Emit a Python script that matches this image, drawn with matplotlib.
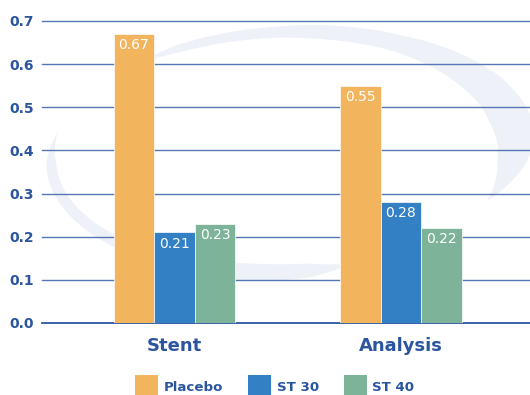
import numpy as np
import matplotlib
matplotlib.use("Agg")
import matplotlib.pyplot as plt
from matplotlib.patches import Polygon, Patch

# ---- data ----
groups = ["Stent", "Analysis"]
series = ["Placebo", "ST 30", "ST 40"]
placebo = [0.67, 0.55]
st30 = [0.21, 0.28]
st40 = [0.23, 0.22]
yticks = [0.0, 0.1, 0.2, 0.3, 0.4, 0.5, 0.6, 0.7]

colors = ["#F2B55E", "#3381C4", "#7DB398"]
text_blue = "#2C55A0"
grid_blue = "#5577B5"

W, H = 530, 395
fig = plt.figure(figsize=(W / 100, H / 100), dpi=100)
fig.patch.set_facecolor("white")

# faint swoosh logo in the background, built in pixel space
CX, CY, A, B, PHI = 283.0, 152.0, 232.0, 120.0, np.deg2rad(3)


def swoosh_arc(th_deg, w_knots_th, w_knots_w):
    th = np.deg2rad(th_deg)
    X = CX + A * np.cos(th) * np.cos(PHI) - B * np.sin(th) * np.sin(PHI)
    Y = CY - (A * np.cos(th) * np.sin(PHI) + B * np.sin(th) * np.cos(PHI))
    w = np.interp(th_deg, w_knots_th, w_knots_w)
    dx, dy = X - CX, Y - CY
    r = np.hypot(dx, dy)
    nx, ny = dx / r, dy / r
    ox, oy = X + nx * w / 2, Y + ny * w / 2
    ix, iy = X - nx * w / 2, Y - ny * w / 2
    px = np.concatenate([ox, ix[::-1]]) / W
    py = 1 - np.concatenate([oy, iy[::-1]]) / H
    return Polygon(np.column_stack([px, py]), closed=True, transform=fig.transFigure,
                   facecolor="#EFF1F8", edgecolor="none", zorder=-1)


fig.patches.append(swoosh_arc(np.linspace(-30, 128, 300),
                              [-30, -10, 10, 30, 60, 90, 115, 128],
                              [0, 30, 42, 38, 20, 11, 9, 0]))
fig.patches.append(swoosh_arc(np.linspace(165, 286, 250),
                              [165, 180, 220, 260, 275, 286],
                              [0, 10, 14, 18, 14, 0]))

ax = fig.add_axes([42 / W, 1 - 323 / H, 488 / W, (323 - 21) / H])
ax.set_facecolor("none")

x = np.arange(len(groups))
width = 0.179
for i, (vals, name) in enumerate(zip([placebo, st30, st40], series)):
    pos = x + (i - 1) * width
    ax.bar(pos, vals, width, color=colors[i], edgecolor="#FFFFFF",
           linewidth=0.5, zorder=3, label=name)
    for p, v in zip(pos, vals):
        ax.annotate(f"{v:.2f}", (p, v), xytext=(0, -3), textcoords="offset points",
                    ha="center", va="top", color="white", fontsize=10, zorder=4)

for yv in yticks:
    ax.axhline(yv, color=text_blue if yv == 0 else grid_blue,
               lw=1.3 if yv == 0 else 1.0, zorder=1, clip_on=False)

ax.set_ylim(0, 0.7)
ax.set_xlim(-0.585, 1.570)
ax.set_yticks(yticks)
ax.set_yticklabels([f"{v:.1f}" for v in yticks], fontsize=10, fontweight="bold",
                   color=text_blue)
ax.set_xticks(x)
ax.set_xticklabels(groups, fontsize=13, fontweight="bold", color=text_blue)
ax.tick_params(axis="y", length=0, pad=6)
ax.tick_params(axis="x", length=0, pad=10)
for s in ax.spines.values():
    s.set_visible(False)

handles = [Patch(facecolor=c, edgecolor="none") for c in colors]
fig.legend(handles, series, loc="upper left", bbox_to_anchor=(135 / W, 1 - 375 / H),
           ncol=3, frameon=False, borderpad=0, borderaxespad=0,
           handlelength=1.73, handleheight=2.28, handletextpad=0.4,
           columnspacing=1.9, prop={"size": 9.6, "weight": "bold"},
           labelcolor=text_blue)

fig.savefig("out.png", dpi=100)
